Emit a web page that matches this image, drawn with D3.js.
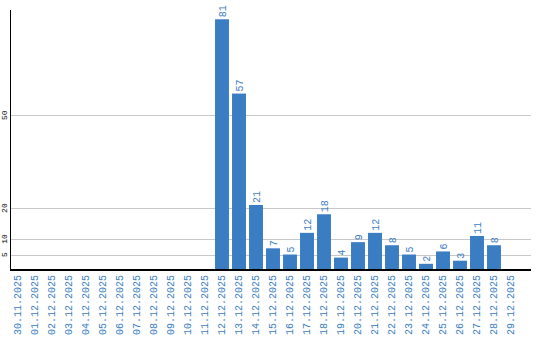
<!DOCTYPE html>
<html>
<head>
<meta charset="utf-8">
<script src="https://cdn.jsdelivr.net/npm/d3@7/dist/d3.min.js"></script>
<style>
  body { margin: 0; background: #fff; }
  svg { display: block; }
</style>
</head>
<body>
<div id="chart"></div>
<script>
// Daily counts
const dates = ["30.11.2025", "01.12.2025", "02.12.2025", "03.12.2025", "04.12.2025",
    "05.12.2025", "06.12.2025", "07.12.2025", "08.12.2025", "09.12.2025",
    "10.12.2025", "11.12.2025", "12.12.2025", "13.12.2025", "14.12.2025",
    "15.12.2025", "16.12.2025", "17.12.2025", "18.12.2025", "19.12.2025",
    "20.12.2025", "21.12.2025", "22.12.2025", "23.12.2025", "24.12.2025",
    "25.12.2025", "26.12.2025", "27.12.2025", "28.12.2025", "29.12.2025"];
const counts = [0, 0, 0, 0, 0, 0, 0, 0, 0, 0, 0, 0,
    81, 57, 21, 7, 5, 12, 18, 4, 9, 12, 8, 5, 2, 6, 3, 11, 8, 0];
const yTicks = [5, 10, 20, 50];

const svgWidth = 540;
const svgHeight = 340;
const blue = "#3a7dc3";
const mono = "'Liberation Mono', monospace";

const data = dates.map((d, i) => ({ date: d, value: counts[i] }));

const svg = d3.select("#chart")
    .append("svg")
    .attr("width", svgWidth)
    .attr("height", svgHeight);

// Scales
const x = d3.scaleBand()
    .domain(dates)
    .range([9.5, 519.5])
    .paddingInner(0.18)
    .paddingOuter(0.09);

const y = d3.scaleLinear()
    .domain([0, 84])
    .range([270, 10]);

// Grid lines
svg.append("g")
    .selectAll("line")
    .data(yTicks)
    .join("line")
    .attr("x1", 10)
    .attr("x2", 531)
    .attr("y1", d => Math.round(y(d)) + 0.5)
    .attr("y2", d => Math.round(y(d)) + 0.5)
    .attr("stroke", "#c8c8c8")
    .attr("stroke-width", 1);

// Y tick labels (rotated)
svg.append("g")
    .selectAll("text")
    .data(yTicks)
    .join("text")
    .attr("transform", d => `translate(7, ${y(d)}) rotate(-90)`)
    .attr("text-anchor", "middle")
    .attr("font-family", mono)
    .attr("font-size", "8px")
    .attr("fill", "#000")
    .text(d => d);

// Bars
svg.append("g")
    .selectAll("rect")
    .data(data.filter(d => d.value > 0))
    .join("rect")
    .attr("x", d => x(d.date))
    .attr("y", d => y(d.value))
    .attr("width", x.bandwidth())
    .attr("height", d => y(0) - y(d.value))
    .attr("fill", blue);

// Value labels
svg.append("g")
    .selectAll("text")
    .data(data.filter(d => d.value > 0))
    .join("text")
    .attr("transform", d => `translate(${x(d.date) + x.bandwidth() / 2 + 3.5}, ${y(d.value) - 2}) rotate(-90)`)
    .attr("text-anchor", "start")
    .attr("font-family", mono)
    .attr("font-size", "10px")
    .attr("fill", blue)
    .text(d => d.value);

// Axes lines
svg.append("line")
    .attr("x1", 10.5).attr("x2", 10.5)
    .attr("y1", 10).attr("y2", 270)
    .attr("stroke", "#000")
    .attr("stroke-width", 1);

svg.append("line")
    .attr("x1", 10).attr("x2", 531)
    .attr("y1", 270).attr("y2", 270)
    .attr("stroke", "#000")
    .attr("stroke-width", 2);

// X tick labels (rotated)
const xAxis = d3.axisBottom(x).tickSize(0).tickPadding(0);
const xg = svg.append("g")
    .attr("transform", "translate(0, 270)")
    .call(xAxis);
xg.select(".domain").remove();
xg.selectAll("text")
    .attr("transform", "rotate(-90)")
    .attr("x", -5)
    .attr("y", 0)
    .attr("dy", "0.32em")
    .attr("text-anchor", "end")
    .attr("font-family", mono)
    .attr("font-size", "10px")
    .attr("fill", blue);
</script>
</body>
</html>
